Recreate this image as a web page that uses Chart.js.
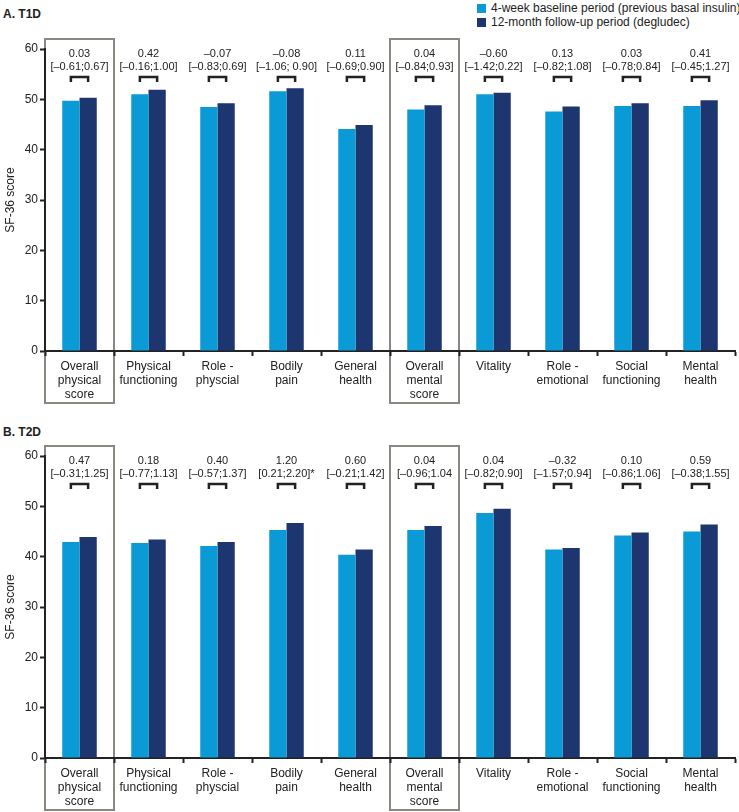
<!DOCTYPE html>
<html>
<head>
<meta charset="utf-8">
<script src="https://cdn.jsdelivr.net/npm/chart.js@4/dist/chart.umd.min.js"></script>
<style>
  html, body { margin:0; padding:0; background:#fff; }
  body { width:739px; height:812px; position:relative; overflow:hidden; font-family:"Liberation Sans", Arial, sans-serif; color:#222; }
  .panel { position:absolute; left:0; width:739px; height:406px; }
  .ptitle { position:absolute; left:3px; font-weight:bold; font-size:12px; }
  .legend { position:absolute; left:477px; top:1px; font-size:12px; line-height:14px; }
  .legend div { white-space:nowrap; }
  .sw { display:inline-block; width:9px; height:9px; margin-right:5px; vertical-align:-1px; }
</style>
</head>
<body>
<div class="legend">
  <div><span class="sw" style="background:#0a9ad6"></span><span id="lg0"></span></div>
  <div><span class="sw" style="background:#1d3670"></span><span id="lg1"></span></div>
</div>
<div class="ptitle" style="top:7px">A. T1D</div>
<div class="ptitle" style="top:425px">B. T2D</div>
<div class="panel" style="top:0"><canvas id="cA" width="739" height="406"></canvas></div>
<div class="panel" style="top:406px"><canvas id="cB" width="739" height="406"></canvas></div>
<script>
const categories = [
  ["Overall","physical","score"], ["Physical","functioning"], ["Role -","physcial"],
  ["Bodily","pain"], ["General","health"], ["Overall","mental","score"],
  ["Vitality"], ["Role -","emotional"], ["Social","functioning"], ["Mental","health"]
];
const seriesNames = ["4-week baseline period (previous basal insulin)", "12-month follow-up period (degludec)"];
const yTicks = [0, 10, 20, 30, 40, 50, 60];
const boxedCategories = [0, 5];

const t1dBaseline = [49.7, 51.0, 48.5, 51.6, 44.1, 48.0, 51.0, 47.6, 48.7, 48.7];
const t1dFollowup = [50.3, 51.9, 49.2, 52.2, 44.9, 48.8, 51.3, 48.6, 49.2, 49.8];
const t1dDiff = ["0.03", "0.42", "–0.07", "–0.08", "0.11", "0.04", "–0.60", "0.13", "0.03", "0.41"];
const t1dCI = ["[–0.61;0.67]", "[–0.16;1.00]", "[–0.83;0.69]", "[–1.06; 0.90]", "[–0.69;0.90]",
               "[–0.84;0.93]", "[–1.42;0.22]", "[–0.82;1.08]", "[–0.78;0.84]", "[–0.45;1.27]"];

const t2dBaseline = [42.9, 42.7, 42.1, 45.3, 40.4, 45.3, 48.7, 41.4, 44.2, 45.0];
const t2dFollowup = [43.9, 43.4, 42.9, 46.7, 41.4, 46.1, 49.5, 41.7, 44.8, 46.4];
const t2dDiff = ["0.47", "0.18", "0.40", "1.20", "0.60", "0.04", "0.04", "–0.32", "0.10", "0.59"];
const t2dCI = ["[–0.31;1.25]", "[–0.77;1.13]", "[–0.57;1.37]", "[0.21;2.20]*", "[–0.21;1.42]",
               "[–0.96;1.04", "[–0.82;0.90]", "[–1.57;0.94]", "[–0.86;1.06]", "[–0.38;1.55]"];

const LIGHT = "#0a9ad6", DARK = "#1d3670", INK = "#222", BOXC = "#8b8680";
const FONT = { family: "'Liberation Sans', Arial, sans-serif", size: 12 };
const ANNOT_SIZE = 11;

document.getElementById("lg0").textContent = seriesNames[0];
document.getElementById("lg1").textContent = seriesNames[1];

const annotPlugin = {
  id: "annot",
  beforeDraw(chart, args, opts) {
    const ctx = chart.ctx, xs = chart.scales.x, ca = chart.chartArea;
    const cw = xs.width / categories.length;
    ctx.save();
    ctx.strokeStyle = BOXC; ctx.lineWidth = 2;
    boxedCategories.forEach(i => {
      const cx = xs.getPixelForValue(i);
      ctx.strokeRect(cx - cw / 2, ca.top - 10, cw, ca.bottom - ca.top + 62);
    });
    ctx.restore();
  },
  afterDraw(chart, args, opts) {
    const ctx = chart.ctx, xs = chart.scales.x, ca = chart.chartArea;
    const m0 = chart.getDatasetMeta(0), m1 = chart.getDatasetMeta(1);
    ctx.save();
    ctx.fillStyle = INK; ctx.strokeStyle = INK;
    ctx.font = ANNOT_SIZE + "px " + FONT.family;
    ctx.textAlign = "center"; ctx.textBaseline = "middle";
    categories.forEach((c, i) => {
      const cx = xs.getPixelForValue(i);
      ctx.fillText(opts.diffs[i], cx, ca.top + 5);
      ctx.fillText(opts.cis[i], cx, ca.top + 18);
      const x0 = m0.data[i].x, x1 = m1.data[i].x, yb = ca.top + 28;
      ctx.lineWidth = 2.5;
      ctx.beginPath();
      ctx.moveTo(x0, yb + 5); ctx.lineTo(x0, yb); ctx.lineTo(x1, yb); ctx.lineTo(x1, yb + 5);
      ctx.stroke();
    });
    ctx.restore();
  }
};

function makeChart(id, base, follow, diffs, cis, topPad, xHeight) {
  return new Chart(document.getElementById(id), {
    type: "bar",
    data: {
      labels: categories,
      datasets: [
        { label: seriesNames[0], data: base, backgroundColor: LIGHT },
        { label: seriesNames[1], data: follow, backgroundColor: DARK }
      ]
    },
    options: {
      responsive: false, animation: false, devicePixelRatio: 1,
      layout: { padding: { left: 0, right: 4, top: topPad, bottom: 0 } },
      datasets: { bar: { categoryPercentage: 0.5, barPercentage: 1.0 } },
      plugins: { legend: { display: false }, tooltip: { enabled: false },
                 annot: { diffs: diffs, cis: cis } },
      scales: {
        x: {
          grid: { offset: true, drawOnChartArea: false, tickLength: 5, tickWidth: 2, tickColor: INK },
          border: { color: INK, width: 2 },
          ticks: { font: FONT, color: INK, padding: 3, maxRotation: 0, autoSkip: false },
          afterFit(s) { s.height = xHeight; }
        },
        y: {
          min: 0, max: 60,
          afterBuildTicks(s) { s.ticks = yTicks.map(v => ({ value: v })); },
          grid: { drawOnChartArea: false, tickLength: 5, tickWidth: 2, tickColor: INK },
          border: { color: INK, width: 2 },
          ticks: { font: FONT, color: INK, padding: 2 },
          title: { display: true, text: "SF-36 score", font: FONT, color: INK, padding: { top: 3, bottom: 0 } },
          afterFit(s) { s.width = 45; }
        }
      }
    },
    plugins: [annotPlugin]
  });
}

makeChart("cA", t1dBaseline, t1dFollowup, t1dDiff, t1dCI, 49, 55);
makeChart("cB", t2dBaseline, t2dFollowup, t2dDiff, t2dCI, 50, 54);
</script>
</body>
</html>
